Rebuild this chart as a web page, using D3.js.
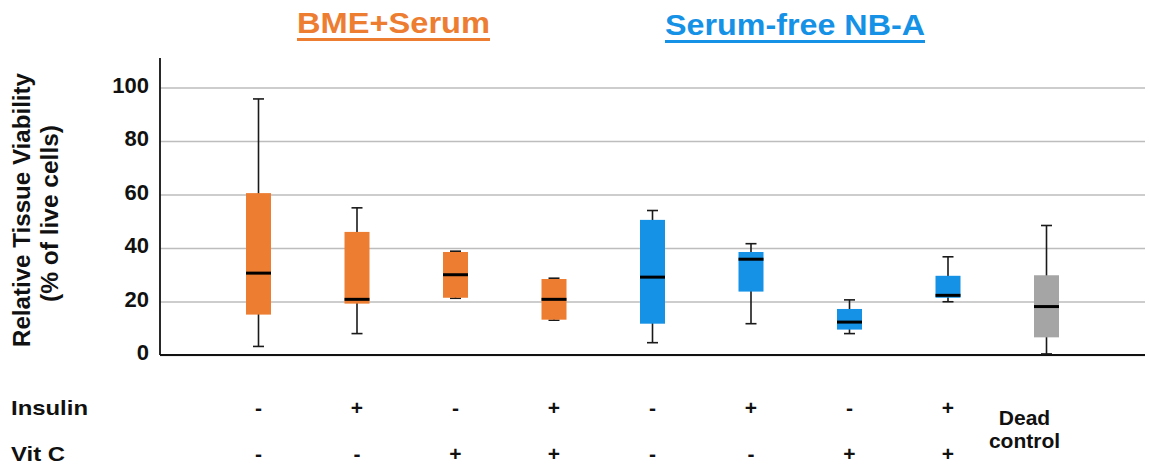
<!DOCTYPE html>
<html>
<head>
<meta charset="utf-8">
<script src="https://cdn.jsdelivr.net/npm/d3@7"></script>
<style>
  html, body { margin: 0; padding: 0; background: #fff; }
  svg { display: block; font-family: "Liberation Sans", Arial, Helvetica, sans-serif; }
</style>
</head>
<body>
<svg id="chart" width="1149" height="466"></svg>
<script>
// Conditions, one per box
const conditions = ["c1", "c2", "c3", "c4", "c5", "c6", "c7", "c8", "dead"];
const media = ["BME+Serum", "BME+Serum", "BME+Serum", "BME+Serum",
               "Serum-free NB-A", "Serum-free NB-A", "Serum-free NB-A", "Serum-free NB-A",
               "Dead control"];
const insulin = ["-", "+", "-", "+", "-", "+", "-", "+"];
const vitC    = ["-", "-", "+", "+", "-", "-", "+", "+"];

// Box plot statistics (% of live cells)
const whiskerLow  = [3.2,  8.0, 21.2, 13.0,  4.6, 11.7,  8.0, 19.9,  0.4];
const q1          = [15.1, 19.2, 21.4, 13.2, 11.7, 23.7,  9.5, 21.4,  6.6];
const median      = [30.6, 20.8, 30.0, 20.8, 29.1, 35.8, 12.3, 22.3, 18.1];
const q3          = [60.5, 46.0, 38.5, 28.4, 50.5, 38.5, 17.2, 29.6, 29.8];
const whiskerHigh = [95.7, 55.0, 38.8, 28.7, 54.0, 41.6, 20.6, 36.7, 48.4];

const yTicks = [0, 20, 40, 60, 80, 100];

const rows = conditions.map((id, i) => ({
  id, medium: media[i],
  lo: whiskerLow[i], q1: q1[i], med: median[i], q3: q3[i], hi: whiskerHigh[i]
}));

const svg = d3.select("#chart");
const plotLeft = 160, plotRight = 1145, plotBottom = 355, plotTop = 58;

const x = d3.scalePoint().domain(conditions).range([plotLeft, plotRight]).padding(1);
const y = d3.scaleLinear().domain([0, 111]).range([plotBottom, plotTop]);
const color = d3.scaleOrdinal()
  .domain(["BME+Serum", "Serum-free NB-A", "Dead control"])
  .range(["#ED7D31", "#1591E6", "#A5A5A5"]);

// Gridlines and tick labels
const yAxis = svg.append("g")
  .attr("transform", `translate(${plotLeft},0)`)
  .call(d3.axisLeft(y).tickValues(yTicks).tickSize(-(plotRight - plotLeft)).tickPadding(11));
yAxis.select(".domain").remove();
yAxis.selectAll(".tick line").attr("stroke", "#bdbdbd").attr("stroke-width", 1.5);
yAxis.selectAll(".tick text")
  .attr("fill", "#111")
  .attr("font-size", 22)
  .attr("font-weight", "bold")
  .attr("font-family", "Liberation Sans, Arial, sans-serif")
  .attr("dy", "0.22em");

// Axis lines
svg.append("line").attr("x1", plotLeft).attr("x2", plotLeft).attr("y1", plotTop).attr("y2", plotBottom)
  .attr("stroke", "#111").attr("stroke-width", 1.8);
svg.append("line").attr("x1", plotLeft).attr("x2", plotRight).attr("y1", y(0)).attr("y2", y(0))
  .attr("stroke", "#111").attr("stroke-width", 1.8);

// Boxes
const boxW = 25, capW = 11;
const g = svg.append("g").selectAll("g").data(rows).join("g")
  .attr("transform", d => `translate(${x(d.id)},0)`);

g.append("line").attr("x1", 0).attr("x2", 0)
  .attr("y1", d => y(d.hi)).attr("y2", d => y(d.lo))
  .attr("stroke", "#1a1a1a").attr("stroke-width", 1.6);
g.append("line").attr("x1", -capW / 2).attr("x2", capW / 2)
  .attr("y1", d => y(d.hi)).attr("y2", d => y(d.hi))
  .attr("stroke", "#1a1a1a").attr("stroke-width", 1.6);
g.append("line").attr("x1", -capW / 2).attr("x2", capW / 2)
  .attr("y1", d => y(d.lo)).attr("y2", d => y(d.lo))
  .attr("stroke", "#1a1a1a").attr("stroke-width", 1.6);
g.append("rect")
  .attr("x", -boxW / 2).attr("width", boxW)
  .attr("y", d => y(d.q3)).attr("height", d => y(d.q1) - y(d.q3))
  .attr("fill", d => color(d.medium));
g.append("line").attr("x1", -boxW / 2).attr("x2", boxW / 2)
  .attr("y1", d => y(d.med)).attr("y2", d => y(d.med))
  .attr("stroke", "#000").attr("stroke-width", 3);

// Group titles with underline
const titles = [
  { text: "BME+Serum", x: 297, w: 193, base: 33, color: color("BME+Serum") },
  { text: "Serum-free NB-A", x: 665, w: 260, base: 35, color: color("Serum-free NB-A") }
];
titles.forEach(t => {
  svg.append("text").attr("x", t.x).attr("y", t.base)
    .attr("font-size", 30).attr("font-weight", "bold").attr("fill", t.color)
    .attr("textLength", t.w).attr("lengthAdjust", "spacingAndGlyphs")
    .text(t.text);
  svg.append("rect").attr("x", t.x).attr("y", t.base + 5).attr("width", t.w).attr("height", 3)
    .attr("fill", t.color);
});

// Y-axis title
const yTitle = [
  { text: "Relative Tissue Viability", bx: 30, cy: 210, len: 274 },
  { text: "(% of live cells)", bx: 58, cy: 213.5, len: 177 }
];
yTitle.forEach(t => {
  svg.append("text")
    .attr("transform", `translate(${t.bx},${t.cy}) rotate(-90)`)
    .attr("text-anchor", "middle")
    .attr("font-size", 23).attr("font-weight", "bold").attr("fill", "#111")
    .attr("textLength", t.len).attr("lengthAdjust", "spacingAndGlyphs")
    .text(t.text);
});

// Treatment rows
const treat = [
  { name: "Insulin", signs: insulin, base: 415, len: 77 },
  { name: "Vit C", signs: vitC, base: 461, len: 54 }
];
treat.forEach(r => {
  svg.append("text").attr("x", 11).attr("y", r.base)
    .attr("font-size", 21).attr("font-weight", "bold").attr("fill", "#111")
    .attr("textLength", r.len).attr("lengthAdjust", "spacingAndGlyphs")
    .text(r.name);
  svg.append("g").selectAll("text").data(r.signs).join("text")
    .attr("x", (d, i) => x(conditions[i]))
    .attr("y", r.base)
    .attr("text-anchor", "middle")
    .attr("font-size", 21).attr("font-weight", "bold").attr("fill", "#111")
    .text(d => d);
});

// Dead control label
const deadLines = ["Dead", "control"];
svg.append("g").selectAll("text").data(deadLines).join("text")
  .attr("x", x("dead") - 22)
  .attr("y", (d, i) => 425 + i * 23)
  .attr("text-anchor", "middle")
  .attr("font-size", 21).attr("font-weight", "bold").attr("fill", "#111")
  .text(d => d);
</script>
</body>
</html>
